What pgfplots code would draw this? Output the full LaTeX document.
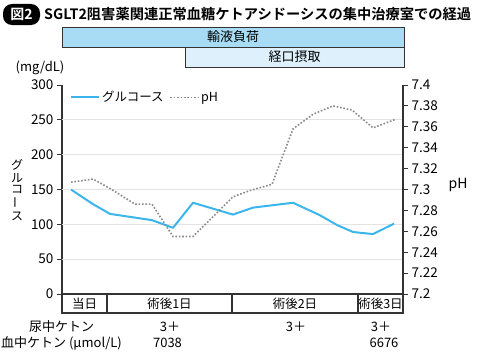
\documentclass[border=0pt]{standalone}
\usepackage{pgfplots}
\pgfplotsset{compat=1.18}
\usepackage{fontspec}
\setmainfont{Noto Sans CJK JP}[BoldFont={Noto Sans CJK JP Bold}]
\definecolor{glu}{HTML}{3BB6EC}
\definecolor{phc}{HTML}{8A8A8A}
\definecolor{axc}{HTML}{333333}
\definecolor{gridc}{HTML}{E3E3E3}
\definecolor{boxa}{HTML}{A8DCF5}
\definecolor{boxb}{HTML}{DDF0FB}
\newcommand\fs[1]{\fontsize{#1bp}{#1bp}\selectfont}
\pgfplotstableread{
x y
71 150
93 129
110 115
152 106
173 95
193 131
233 114
253 124
293 131
320 113
337 99
353 89
373 86
394 101
}\glucose
\pgfplotstableread{
x y
71 7.307
93 7.310
110 7.301
135 7.286
152 7.286
173 7.255
193 7.255
233 7.293
250 7.299
272 7.305
293 7.358
313 7.372
333 7.380
352 7.376
373 7.359
395 7.367
}\ph
\begin{document}
\begin{tikzpicture}
\begin{scope}[x=1bp,y=1bp]
\useasboundingbox (0,0) rectangle (477,354);
% title
\fill[black,rounded corners=9bp] (3,329) rectangle (40,350);
\node[text=white,font=\fs{14}\bfseries] at (21.5,339.5) {図2};
\node[anchor=west,inner sep=0] at (44,339.5) {\resizebox{427bp}{!}{\fs{14.8}\bfseries SGLT2阻害薬関連正常血糖ケトアシドーシスの集中治療室での経過}};
% top boxes
\draw[axc,line width=0.8bp,fill=boxa] (62,327) rectangle (404,307);
\node[font=\fs{13}] at (233,317) {輸液負荷};
\draw[axc,line width=0.8bp,fill=boxb] (185,307) rectangle (404,287);
\node[font=\fs{13}] at (294.5,297) {経口摂取};
% labels
\node[font=\fs{13}] at (40,286) {(mg/dL)};
\node[font=\fs{12},align=center,inner sep=0] at (17,164) {\shortstack{グ\\ル\\コ\\\rotatebox{90}{ー}\\ス}};
\node[font=\fs{14}] at (458,169) {pH};
% category table
\draw[axc,line width=1.2bp] (62,60) rectangle (403,41);
\foreach \xx in {107,232,358} \draw[axc,line width=1.2bp] (\xx,60) -- (\xx,41);
\node[font=\fs{12.5}] at (84.5,50.5) {当日};
\node[font=\fs{12.5}] at (169.5,50.5) {術後1日};
\node[font=\fs{12.5}] at (295,50.5) {術後2日};
\node[font=\fs{12.5}] at (380.5,50.5) {術後3日};
% bottom rows
\node[font=\fs{13}] at (61.5,27) {尿中ケトン};
\node[font=\fs{13}] at (170,27) {3＋};
\node[font=\fs{13}] at (296,27) {3＋};
\node[font=\fs{13}] at (381,27) {3＋};
\node[font=\fs{13}] at (61.5,11) {血中ケトン (μmol/L)};
\node[font=\fs{13}] at (167.5,11) {7038};
\node[font=\fs{13}] at (384,11) {6676};
\end{scope}
\begin{axis}[
  at={(62bp,60bp)}, anchor=south west,
  scale only axis, width=341bp, height=209bp,
  xmin=62, xmax=403, ymin=0, ymax=300,
  axis x line=none, axis y line*=left,
  axis line style={axc,line width=1.2bp},
  xtick=\empty, ytick={0,50,...,300},
  tick align=outside, major tick length=5bp,
  tick style={axc,line width=1bp},
  /pgf/number format/assume math mode=true,
  yticklabel style={font=\fs{13.5}},
  clip=false,
]
\pgfplotsinvokeforeach{50,100,150,200,250}{
  \draw[gridc,line width=1bp] (axis cs:62,#1) -- (axis cs:403,#1);
}
\addplot[glu,line width=2bp,line join=round] table[x=x,y=y] {\glucose};
\end{axis}
\begin{axis}[
  at={(62bp,60bp)}, anchor=south west,
  scale only axis, width=341bp, height=209bp,
  xmin=62, xmax=403, ymin=7.2, ymax=7.4,
  axis x line=none, axis y line*=right,
  axis line style={axc,line width=1.2bp},
  xtick=\empty,
  ytick={7.2,7.22,7.24,7.26,7.28,7.3,7.32,7.34,7.36,7.38,7.4},
  yticklabels={7.2,7.22,7.24,7.26,7.28,7.3,7.32,7.34,7.36,7.38,7.4},
  tick align=outside, major tick length=5bp,
  tick style={axc,line width=1bp},
  /pgf/number format/assume math mode=true,
  yticklabel style={font=\fs{13.5}},
  legend style={at={(0.02,0.985)},anchor=north west,draw=none,fill=none,font=\fs{12.5},
    legend columns=2,/tikz/every even column/.append style={column sep=4bp},
    inner sep=1bp},
  legend image code/.code={\draw[#1] (0bp,0bp) -- (28bp,0bp);},
  clip=false,
]
\addlegendimage{glu,line width=2bp}
\addlegendentry{グルコース}
\addplot[phc,line width=1.6bp,dash pattern=on 1.6bp off 1.8bp] table[x=x,y=y] {\ph};
\addlegendentry{pH}
\end{axis}
\end{tikzpicture}
\end{document}
